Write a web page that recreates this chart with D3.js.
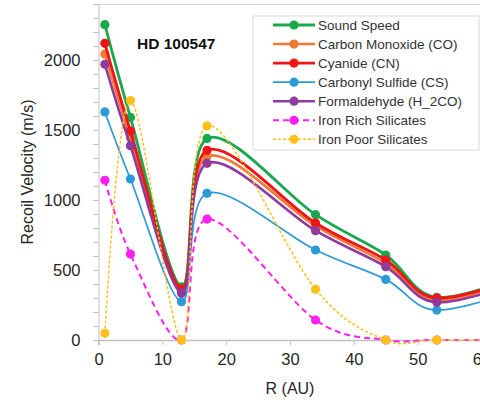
<!DOCTYPE html>
<html><head><meta charset="utf-8">
<script src="https://cdn.jsdelivr.net/npm/d3@7"></script>
<style>body{margin:0;background:#fff}svg{display:block}text{font-family:"Liberation Sans",Arial,sans-serif}</style>
</head><body>
<svg id="c" width="480" height="400"></svg>
<script>
const radius = [1, 5, 13, 17, 34, 45, 53, 68];
const seriesNames = ["Sound Speed","Carbon Monoxide (CO)","Cyanide (CN)","Carbonyl Sulfide (CS)","Formaldehyde (H_2CO)","Iron Rich Silicates","Iron Poor Silicates"];
const soundSpeed = [2252, 1590, 380, 1440, 895, 607, 305, 490];
const carbonMonoxide = [2043, 1445, 350, 1310, 815, 548, 285, 465];
const cyanide = [2119, 1493, 365, 1355, 836, 571, 300, 478];
const carbonylSulfide = [1629, 1150, 274, 1048, 643, 433, 214, 390];
const formaldehyde = [1969, 1388, 335, 1262, 781, 524, 269, 445];
const ironRich = [1141, 614, 0, 864, 143, 0, 0, 0];
const ironPoor = [48, 1710, 0, 1529, 362, 0, 0, 0];
const yTicks = [0, 500, 1000, 1500, 2000];
const xTicks = [0, 10, 20, 30, 40, 50, 60];

const styles = [
  {c:"#1aa84f", w:2.8, dash:null},
  {c:"#ee7a36", w:2.6, dash:null},
  {c:"#f01414", w:2.8, dash:null},
  {c:"#2b9bd8", w:1.7, dash:null},
  {c:"#8e3a9e", w:2.6, dash:null},
  {c:"#ff1ff0", w:2, dash:"6,4"},
  {c:"#ffbf1a", w:1.5, dash:"3,2"}
];
const allVals = [soundSpeed, carbonMonoxide, cyanide, carbonylSulfide, formaldehyde, ironRich, ironPoor];

const svg = d3.select("#c");
const x = d3.scaleLinear().domain([0, 60]).range([98.5, 481.5]);
const y = d3.scaleLinear().domain([0, 2400]).range([340, 4]);

// top frame line
svg.append("line").attr("x1", 98.5).attr("x2", 480).attr("y1", 4.5).attr("y2", 4.5).attr("stroke", "#d9d9d9");

// y axis
const yAxisMinor = d3.axisLeft(y).tickValues(d3.range(0, 2401, 100)).tickSize(5).tickFormat("");
const gyMinor = svg.append("g").attr("transform", "translate(98.5,0)").call(yAxisMinor);
gyMinor.select(".domain").attr("stroke", "#bfbfbf");
gyMinor.selectAll(".tick line").attr("stroke", "#bfbfbf");
const yAxis = d3.axisLeft(y).tickValues(yTicks).tickSize(0).tickPadding(18).tickFormat(d3.format("d"));
const gy = svg.append("g").attr("transform", "translate(98.5,0)").call(yAxis);
gy.select(".domain").remove();
gy.selectAll(".tick text").attr("font-size", 16.5).attr("fill", "#262626");

// x axis
const xAxis = d3.axisBottom(x).tickValues(xTicks).tickSize(5).tickPadding(8).tickFormat(d3.format("d"));
const gx = svg.append("g").attr("transform", "translate(0,340)").call(xAxis);
gx.select(".domain").attr("stroke", "#bfbfbf").attr("stroke-width", 1.5);
gx.selectAll(".tick line").attr("stroke", "#bfbfbf");
gx.selectAll(".tick text").attr("font-size", 16.5).attr("fill", "#262626");

// axis titles
svg.append("text").attr("transform", "translate(33,172) rotate(-90)").attr("text-anchor", "middle")
  .attr("font-size", 16).attr("fill", "#262626").text("Recoil Velocity (m/s)");
svg.append("text").attr("x", 290).attr("y", 394).attr("text-anchor", "middle")
  .attr("font-size", 16).attr("fill", "#262626").text("R (AU)");

// title
svg.append("text").attr("x", 137).attr("y", 49).attr("font-size", 15.5).attr("font-weight", "bold")
  .attr("fill", "#111").text("HD 100547");

// series
const line = d3.line().x(d => x(d[0])).y(d => y(d[1])).curve(d3.curveCatmullRom.alpha(0));
allVals.forEach((vals, i) => {
  const pts = radius.map((r, j) => [r, vals[j]]);
  const s = styles[i];
  const g = svg.append("g");
  g.append("path").attr("d", line(pts)).attr("fill", "none").attr("stroke", s.c)
    .attr("stroke-width", s.w).attr("stroke-dasharray", s.dash);
  g.selectAll("circle").data(pts.filter(p => p[0] <= 60)).join("circle")
    .attr("cx", d => x(d[0])).attr("cy", d => y(d[1])).attr("r", 4.6).attr("fill", s.c);
});

// legend
const lg = svg.append("g");
lg.append("rect").attr("x", 253).attr("y", 16).attr("width", 226).attr("height", 134)
  .attr("fill", "#fff").attr("stroke", "#d9d9d9");
seriesNames.forEach((n, i) => {
  const yy = 25 + i * 19.05;
  const s = styles[i];
  lg.append("line").attr("x1", 273).attr("x2", 315).attr("y1", yy).attr("y2", yy)
    .attr("stroke", s.c).attr("stroke-width", s.w).attr("stroke-dasharray", s.dash);
  lg.append("circle").attr("cx", 294).attr("cy", yy).attr("r", 4.6).attr("fill", s.c);
  lg.append("text").attr("x", 318).attr("y", yy + 4.8).attr("font-size", 13.5).attr("fill", "#333").text(n);
});
</script>
</body></html>
